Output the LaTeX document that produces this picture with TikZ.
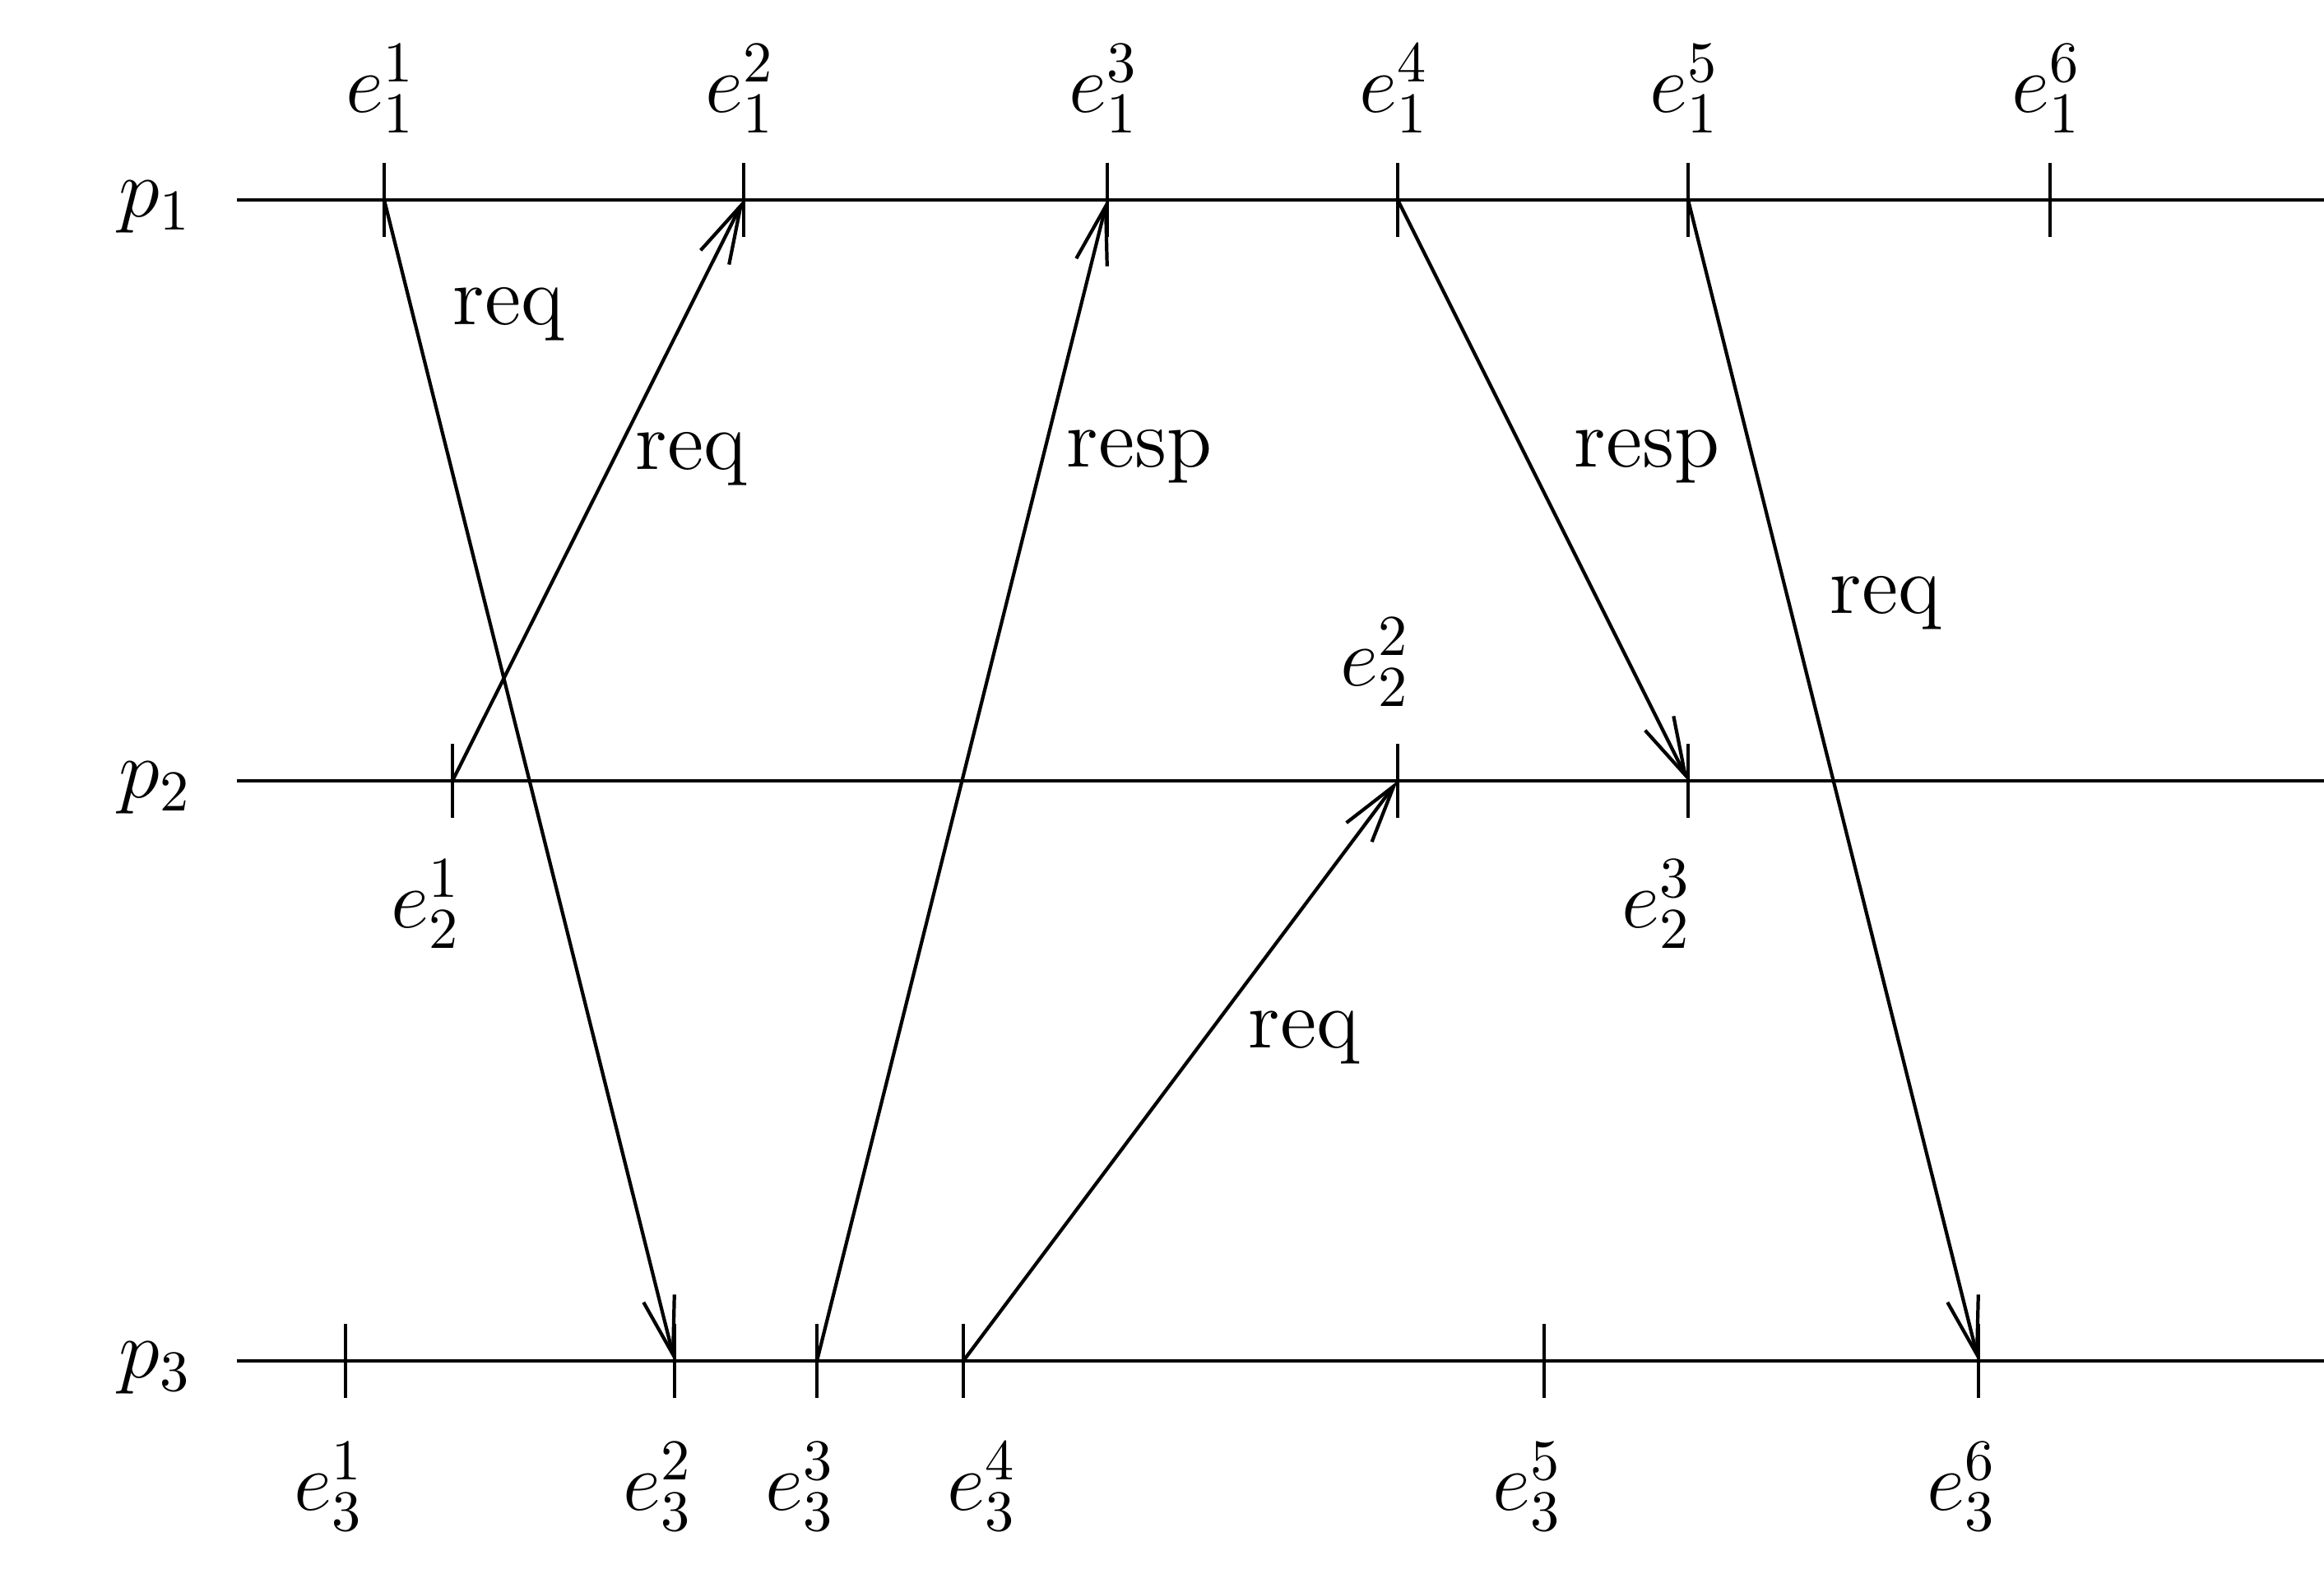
\documentclass[tikz,border=0pt]{standalone}
\usepackage{tikz}
\usetikzlibrary{arrows.meta}
\tikzset{>={Straight Barb[length=10pt,width=5.5pt]}}

\begin{document}
\begin{tikzpicture}[line width=0.6pt,
    evlabel/.style={font=\Large,inner sep=0pt},
    msglabel/.style={font=\Large,inner sep=0pt}]
  % limits
  \useasboundingbox (0,0) rectangle (14.125,9.65);
  \def\xl{1.44}    % left end of the process lines
  \def\xr{14.125}  % right end of the process lines
  \def\ya{8.435}   % p1
  \def\yb{4.905}   % p2
  \def\yc{1.38}    % p3
  \def\lt{0.225}   % half tick length

  % help functions

        % Event tick on a process line
  \def\eventTick(#1){\draw ([yshift=\lt cm]#1) -- ([yshift=-\lt cm]#1);}

  % process lines
  \coordinate (l1) at (\xl,\ya); \coordinate (r1) at (\xr,\ya);
  \coordinate (l2) at (\xl,\yb); \coordinate (r2) at (\xr,\yb);
  \coordinate (l3) at (\xl,\yc); \coordinate (r3) at (\xr,\yc);
  \draw (l1) -- (r1);
  \draw (l2) -- (r2);
  \draw (l3) -- (r3);
  \node[evlabel] (p1) at (0.945,\ya-0.045) {$p_1$};
  \node[evlabel] (p2) at (0.945,\yb-0.045) {$p_2$};
  \node[evlabel] (p3) at (0.945,\yc-0.045) {$p_3$};

  % EVENTS p1
  \foreach \n/\x in {1/2.335,2/4.52,3/6.73,4/8.495,5/10.26,6/12.46}{
    \coordinate (e1\n) at (\x,\ya);
    \eventTick(e1\n)
    \node[evlabel] (t1\n) at (\x-0.02,9.11) {$e_1^{\n}$};
  }

  % EVENTS p2
  \foreach \n/\x/\dx/\y in {1/2.75/-0.16/4.155,2/8.495/-0.135/5.625,3/10.26/-0.19/4.155}{
    \coordinate (e2\n) at (\x,\yb);
    \eventTick(e2\n)
    \node[evlabel] (t2\n) at (\x+\dx,\y) {$e_2^{\n}$};
  }

  % EVENTS p3
  \foreach \n/\x/\dx in {1/2.10/-0.1,2/4.10/-0.1,3/4.965/-0.1,4/5.855/0.115,5/9.385/-0.1,6/12.025/-0.1}{
    \coordinate (e3\n) at (\x,\yc);
    \eventTick(e3\n)
    \node[evlabel] (t3\n) at (\x+\dx,0.615) {$e_3^{\n}$};
  }

  % MESSAGES
    \draw[->] (e11) -- (e32);
    \draw[->] (e21) -- (e12);
    \draw[->] (e33) -- (e13);
    \draw[->] (e34) -- (e22);
    \draw[->] (e14) -- (e23);
    \draw[->] (e15) -- (e36);

    \node[msglabel] (m1) at (3.09,7.74) {req};
    \node[msglabel] (m2) at (4.20,6.86) {req};
    \node[msglabel] (m3) at (6.925,6.875) {resp};
    \node[msglabel] (m4) at (7.925,3.345) {req};
    \node[msglabel] (m5) at (10.01,6.875) {resp};
    \node[msglabel] (m6) at (11.46,5.985) {req};

\end{tikzpicture}
\end{document}
